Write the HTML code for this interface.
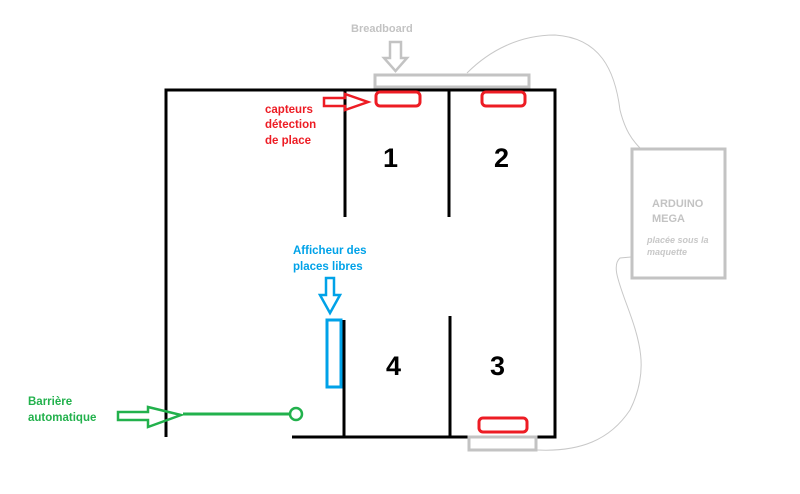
<!DOCTYPE html>
<html><head><meta charset="utf-8"><style>
html,body{margin:0;padding:0;background:#fff;width:800px;height:494px;overflow:hidden}
svg{display:block}
text{font-family:"Liberation Sans",sans-serif;font-weight:bold}
</style></head><body>
<svg width="800" height="494" viewBox="0 0 800 494" xmlns="http://www.w3.org/2000/svg">
<!-- wire -->
<path d="M467 73 C 490 50, 520 35, 555 35 C 600 38, 615 70, 620 110 C 625 130, 632 140, 640 148" fill="none" stroke="#c8c8c8" stroke-width="1"/>
<path d="M631 257 L 620 258 C 612 265, 618 280, 625 300 C 640 340, 650 370, 630 410 C 610 440, 580 452, 537 450" fill="none" stroke="#c8c8c8" stroke-width="1"/>
<!-- walls -->
<g stroke="#000" stroke-width="3" fill="none">
<path d="M166 437 V90 H555 V437 H292"/>
<path d="M345 90 V217 M449 90 V217 M344 320 V436 M450 316 V436"/>
</g>
<!-- breadboard -->
<rect x="375" y="75" width="154" height="12" fill="none" stroke="#c3c3c3" stroke-width="3"/>
<rect x="469" y="437" width="67" height="13" fill="none" stroke="#c3c3c3" stroke-width="3"/>
<path d="M390 42 H401 V58 H407 L395.5 71 L384 58 H390 Z" fill="none" stroke="#c3c3c3" stroke-width="2.5"/>
<text x="351" y="32" font-size="11" fill="#c3c3c3">Breadboard</text>
<!-- sensors -->
<g fill="none" stroke="#ed1c24" stroke-width="3">
<rect x="376" y="92" width="44" height="14" rx="4"/>
<rect x="482" y="92" width="43" height="14" rx="4"/>
<rect x="479" y="418" width="48" height="14" rx="4"/>
<path d="M324 98 H345 V94 L368 102 L345 110 V106 H324 Z" stroke-width="2.5"/>
</g>
<g font-size="11.5" fill="#ed1c24">
<text x="265" y="113">capteurs</text>
<text x="265" y="128">détection</text>
<text x="265" y="144">de place</text>
</g>
<!-- numbers -->
<g font-size="27" fill="#000">
<text x="383" y="167">1</text>
<text x="494" y="167">2</text>
<text x="386" y="375">4</text>
<text x="490" y="375">3</text>
</g>
<!-- afficheur -->
<text x="293" y="254" font-size="11.5" fill="#00a2e8">Afficheur des</text>
<text x="293" y="270" font-size="11.5" fill="#00a2e8">places libres</text>
<path d="M326 278 H334 V295 H340 L330 313 L320 295 H326 Z" fill="none" stroke="#00a2e8" stroke-width="2.5"/>
<rect x="327" y="320" width="14" height="67" fill="none" stroke="#00a2e8" stroke-width="3"/>
<!-- barriere -->
<text x="28" y="405" font-size="11.5" fill="#22b14c">Barrière</text>
<text x="28" y="421" font-size="11.5" fill="#22b14c">automatique</text>
<path d="M118 412 H148 V407 L181 415 L148 427 V420 H118 Z" fill="none" stroke="#22b14c" stroke-width="2.5"/>
<line x1="183" y1="414" x2="290" y2="414" stroke="#22b14c" stroke-width="3"/>
<circle cx="296" cy="414" r="6" fill="#fff" stroke="#22b14c" stroke-width="2.5"/>
<!-- arduino -->
<rect x="632" y="149" width="93" height="129" fill="none" stroke="#c3c3c3" stroke-width="3"/>
<text x="652" y="207" font-size="11" fill="#c3c3c3">ARDUINO</text>
<text x="652" y="222" font-size="11" fill="#c3c3c3">MEGA</text>
<text x="647" y="243" font-size="9" fill="#c8c8c8" font-weight="normal" font-style="italic">placée sous la</text>
<text x="647" y="255" font-size="9" fill="#c8c8c8" font-weight="normal" font-style="italic">maquette</text>
</svg>
</body></html>
